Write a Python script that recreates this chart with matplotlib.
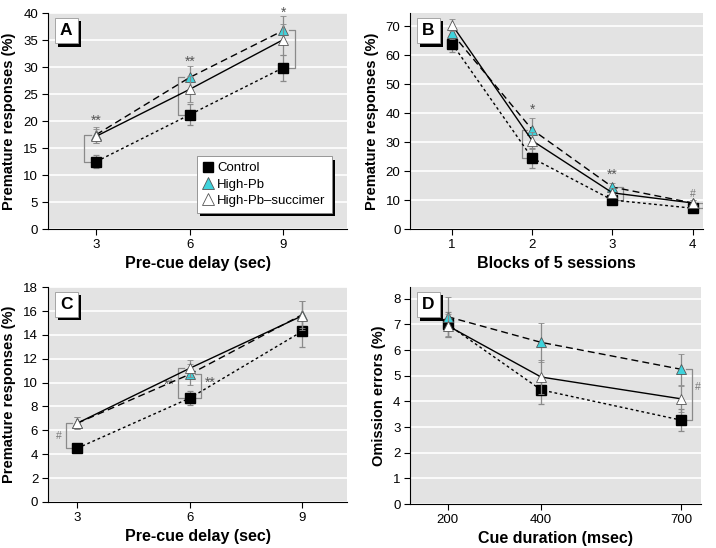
import matplotlib
matplotlib.use("Agg")
import matplotlib.pyplot as plt
import matplotlib.patheffects as pe
from matplotlib.lines import Line2D

plt.rcParams['font.family'] = ['Liberation Sans', 'DejaVu Sans']

# panel A - pre-cue delay
a_x = [3, 6, 9]
a_ctrl = [12.5, 21.2, 29.9]
a_ctrl_err = [1.2, 1.9, 2.4]
a_pb = [17.5, 28.1, 36.8]
a_pb_err = [1.5, 2.1, 2.6]
a_suc = [17.2, 25.9, 35.1]
a_suc_err = [1.3, 2.4, 2.9]

# panel B - blocks of sessions
b_x = [1, 2, 3, 4]
b_ctrl = [64.0, 24.5, 10.0, 7.2]
b_ctrl_err = [3.0, 3.5, 1.0, 1.0]
b_pb = [67.5, 34.3, 14.5, 9.0]
b_pb_err = [2.0, 4.0, 1.5, 1.0]
b_suc = [70.5, 30.5, 12.5, 9.0]
b_suc_err = [2.0, 3.0, 1.5, 1.0]

# panel C - pre-cue delay
c_x = [3, 6, 9]
c_ctrl = [4.5, 8.7, 14.3]
c_ctrl_err = [0.35, 0.6, 1.3]
c_pb = [6.6, 10.7, 15.7]
c_pb_err = [0.5, 0.9, 1.1]
c_suc = [6.6, 11.2, 15.6]
c_suc_err = [0.5, 0.7, 1.2]

# panel D - cue duration
d_x = [200, 400, 700]
d_ctrl = [7.0, 4.45, 3.27]
d_ctrl_err = [0.5, 0.55, 0.42]
d_pb = [7.3, 6.3, 5.25]
d_pb_err = [0.75, 0.75, 0.6]
d_suc = [6.95, 4.95, 4.1]
d_suc_err = [0.45, 0.65, 0.5]

labels = ['Control', 'High-Pb', 'High-Pb\u2013succimer']
cyan = '#3fd3dc'
grey = '#8a8a8a'


def draw_series(ax, x, ctrl, ctrl_e, pb, pb_e, suc, suc_e):
    ax.errorbar(x, ctrl, yerr=ctrl_e, color='k', ls=(0, (2, 2)), lw=1.0,
                marker='s', ms=6.5, mfc='k', mec='k', ecolor=grey, elinewidth=0.9,
                capsize=2.5, capthick=0.9, zorder=3)
    ax.errorbar(x, pb, yerr=pb_e, color='k', ls=(0, (5, 3)), lw=1.0,
                marker='^', ms=7.5, mfc=cyan, mec='#555555', mew=0.6, ecolor=grey,
                elinewidth=0.9, capsize=2.5, capthick=0.9, zorder=4)
    ax.errorbar(x, suc, yerr=suc_e, color='k', ls='-', lw=1.0,
                marker='^', ms=7.5, mfc='white', mec='#555555', mew=0.6, ecolor=grey,
                elinewidth=0.9, capsize=2.5, capthick=0.9, zorder=5)


def bracket(ax, x, y0, y1, dx, tick):
    ax.plot([x + dx + tick, x + dx, x + dx, x + dx + tick], [y0, y0, y1, y1],
            color=grey, lw=0.9, zorder=2)


def style(ax, xt, xlim, yt, ylim, xlabel, ylabel, letter):
    ax.set_facecolor('#e3e3e3')
    ax.set_xlim(xlim)
    ax.set_ylim(ylim)
    ax.set_xticks(xt)
    ax.set_yticks(yt)
    ax.grid(axis='y', color='white', lw=1.2)
    ax.set_axisbelow(True)
    for s in ['top', 'right']:
        ax.spines[s].set_visible(False)
    ax.tick_params(labelsize=9.5, length=4, width=0.8, pad=3)
    ax.set_xlabel(xlabel, fontsize=11.5, fontweight='bold', labelpad=4)
    ax.set_ylabel(ylabel, fontsize=10.5, fontweight='bold', labelpad=5)
    t = ax.text(0.04, 0.955, letter, transform=ax.transAxes, fontsize=12.5,
                fontweight='bold', va='top', ha='left', zorder=10,
                bbox=dict(boxstyle='square,pad=0.3', fc='white', ec='#999999', lw=0.6))
    t.get_bbox_patch().set_path_effects(
        [pe.withSimplePatchShadow(offset=(2.5, -2.5), shadow_rgbFace='k', alpha=1)])


fig = plt.figure(figsize=(7.16, 5.48), dpi=100)
axA = fig.add_axes([0.067, 0.582, 0.418, 0.394])
axB = fig.add_axes([0.573, 0.582, 0.409, 0.394])
axC = fig.add_axes([0.067, 0.084, 0.418, 0.392])
axD = fig.add_axes([0.573, 0.080, 0.406, 0.396])

star_kw = dict(ha='center', va='bottom', fontsize=10, color='#555555')

# A
draw_series(axA, a_x, a_ctrl, a_ctrl_err, a_pb, a_pb_err, a_suc, a_suc_err)
style(axA, a_x, (1.45, 11.05), range(0, 41, 5), (0, 40),
      'Pre-cue delay (sec)', 'Premature responses (%)', 'A')
bracket(axA, a_x[0], a_ctrl[0], a_pb[0], -0.38, 0.2)
bracket(axA, a_x[1], a_ctrl[1], a_pb[1], -0.38, 0.2)
bracket(axA, a_x[2], a_ctrl[2], a_pb[2], 0.38, -0.2)
axA.text(a_x[0], a_pb[0] + 1.2, '**', **star_kw)
axA.text(a_x[1], a_pb[1] + 1.6, '**', **star_kw)
axA.text(a_x[2], a_pb[2] + 2.0, '*', **star_kw)
handles = [
    Line2D([], [], ls='', marker='s', ms=7, mfc='k', mec='k'),
    Line2D([], [], ls='', marker='^', ms=8, mfc=cyan, mec='#555555', mew=0.6),
    Line2D([], [], ls='', marker='^', ms=8, mfc='white', mec='#555555', mew=0.6),
]
leg = axA.legend(handles, labels, loc='lower right', bbox_to_anchor=(0.97, 0.045),
                 fontsize=9.5, frameon=True, fancybox=False, framealpha=1,
                 edgecolor='#888888', handlelength=0.8, handletextpad=0.3,
                 borderpad=0.45, labelspacing=0.3)
leg.get_frame().set_linewidth(0.6)
leg.get_frame().set_path_effects(
    [pe.withSimplePatchShadow(offset=(2.5, -2.5), shadow_rgbFace='k', alpha=1)])

# B
draw_series(axB, b_x, b_ctrl, b_ctrl_err, b_pb, b_pb_err, b_suc, b_suc_err)
style(axB, b_x, (0.48, 4.13), range(0, 71, 10), (0, 74.5),
      'Blocks of 5 sessions', 'Premature responses (%)', 'B')
bracket(axB, b_x[1], b_ctrl[1], b_pb[1], -0.13, 0.07)
bracket(axB, b_x[2], b_ctrl[2], b_pb[2], 0.13, -0.07)
bracket(axB, b_x[3], b_ctrl[3], b_pb[3], 0.13, -0.07)
axB.text(b_x[1], b_pb[1] + 4.5, '*', **star_kw)
axB.text(b_x[2], b_pb[2] + 1.8, '**', **star_kw)
axB.text(b_x[3], b_pb[3] + 1.5, '#', ha='center', va='bottom', fontsize=7.5, color='#777777')

# C
draw_series(axC, c_x, c_ctrl, c_ctrl_err, c_pb, c_pb_err, c_suc, c_suc_err)
style(axC, c_x, (2.22, 10.2), range(0, 19, 2), (0, 18),
      'Pre-cue delay (sec)', 'Premature responses (%)', 'C')
bracket(axC, c_x[0], c_ctrl[0], c_suc[0], -0.3, 0.15)
bracket(axC, c_x[1], c_ctrl[1], c_suc[1], -0.3, 0.15)
bracket(axC, c_x[1], c_ctrl[1], c_pb[1], 0.3, -0.15)
axC.text(c_x[0] - 0.5, (c_ctrl[0] + c_suc[0]) / 2, '#', ha='center', va='center',
         fontsize=7.5, color='#777777')
axC.text(c_x[1] - 0.55, 9.8, '**', ha='center', va='center', fontsize=10, color='#555555')
axC.text(c_x[1] + 0.55, 10.0, '**', ha='center', va='center', fontsize=10, color='#555555')

# D
draw_series(axD, d_x, d_ctrl, d_ctrl_err, d_pb, d_pb_err, d_suc, d_suc_err)
style(axD, d_x, (120, 742), range(0, 9), (0, 8.45),
      'Cue duration (msec)', 'Omission errors (%)', 'D')
bracket(axD, d_x[2], d_ctrl[2], d_pb[2], 22, -12)
axD.text(d_x[2] + 36, (d_ctrl[2] + d_pb[2]) / 2 + 0.3, '#', ha='center', va='center',
         fontsize=7.5, color='#777777')

fig.savefig('out.png', dpi=100)
